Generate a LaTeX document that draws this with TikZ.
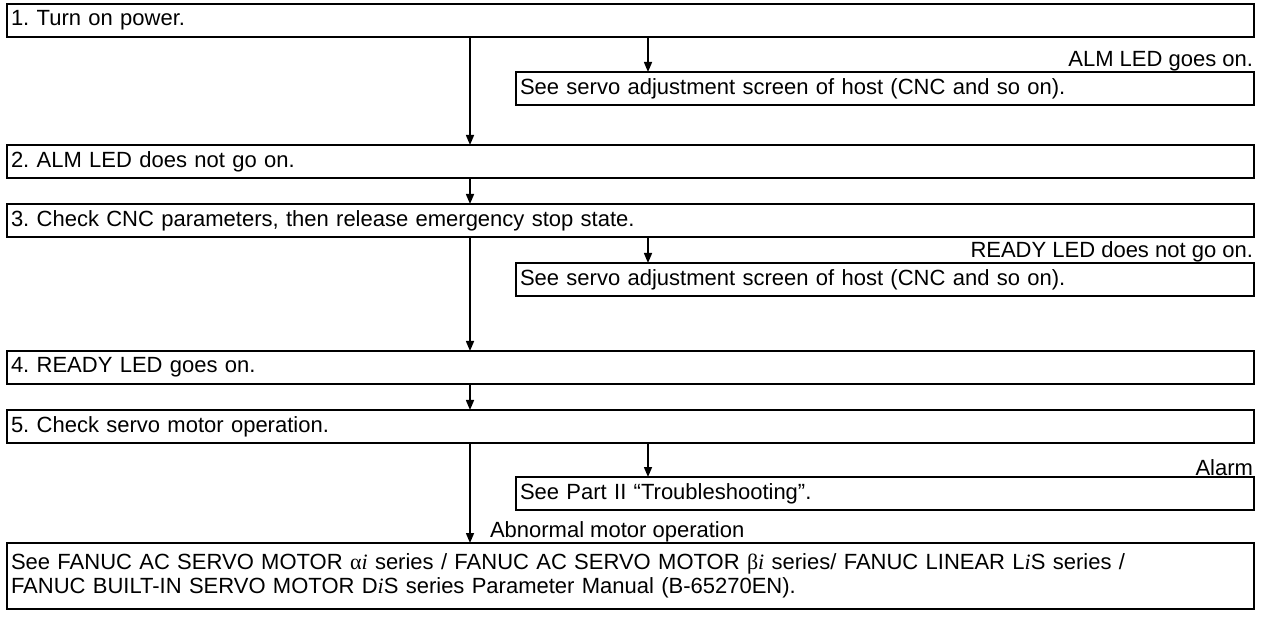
\documentclass[tikz,border=0pt]{standalone}
\usepackage{fontspec}
\setmainfont{Liberation Sans}
\newfontfamily\symfont{Liberation Serif}
\usetikzlibrary{arrows.meta, positioning}

\newcommand{\gk}[1]{{\symfont #1\textit{i}}}
\newcommand{\itali}{{\symfont\itshape i}}

\begin{document}
\frenchspacing
\begin{tikzpicture}[
    x=1pt, y=1pt,
    font=\fontsize{22}{24}\selectfont,
    stepbox/.style={rectangle, draw, line width=2pt, outer sep=0pt, text width=1239pt, inner xsep=4pt, inner ysep=2pt, minimum height=33pt, align=left},
    refbox/.style={rectangle, draw, line width=2pt, outer sep=0pt, text width=730pt, inner xsep=4pt, inner ysep=2pt, minimum height=33pt, align=left},
    result/.style={inner sep=1pt, outer sep=0pt},
    arrow/.style={-{Triangle[length=10pt, width=8pt]}, line width=1.5pt}
]
    \useasboundingbox (0,0) rectangle (1269,-617);

    % Main steps
    \node[stepbox, anchor=north west] (power) at (7,-4) {1. Turn on power.};
    \node[stepbox, below=108pt of power] (almoff) {2. ALM LED does not go on.};
    \node[stepbox, below=26pt of almoff] (release) {3. Check CNC parameters, then release emergency stop state.};
    \node[stepbox, below=114pt of release] (readyon) {4. READY LED goes on.};
    \node[stepbox, below=26pt of readyon] (motor) {5. Check servo motor operation.};
    \node[stepbox, below=100pt of motor, minimum height=66pt] (manual) {See FANUC AC SERVO MOTOR \gk{α} series / FANUC AC SERVO MOTOR \gk{β} series/ FANUC LINEAR L\itali S series /\\FANUC BUILT-IN SERVO MOTOR D\itali S series Parameter Manual (B-65270EN).};

    % Side branches
    \node[refbox, below left=35pt and 0pt of power.south east] (almref) {See servo adjustment screen of host (CNC and so on).};
    \node[result, above left=0pt and 0pt of almref.north east] (almtxt) {ALM LED goes on.};
    \node[refbox, below left=26pt and 0pt of release.south east] (readyref) {See servo adjustment screen of host (CNC and so on).};
    \node[result, above left=0pt and 0pt of readyref.north east] (readytxt) {READY LED does not go on.};
    \node[refbox, below left=34pt and 0pt of motor.south east] (alarmref) {See Part II “Troubleshooting”.};
    \node[result, above left=0pt and 0pt of alarmref.north east] (alarmtxt) {Alarm};
    \node[result, above right=0pt and 482pt of manual.north west] (abnormal) {Abnormal motor operation};

    % Arrows - main flow
    \draw[arrow] ([xshift=463pt]power.south west) -- ([xshift=463pt]almoff.north west);
    \draw[arrow] ([xshift=463pt]almoff.south west) -- ([xshift=463pt]release.north west);
    \draw[arrow] ([xshift=463pt]release.south west) -- ([xshift=463pt]readyon.north west);
    \draw[arrow] ([xshift=463pt]readyon.south west) -- ([xshift=463pt]motor.north west);
    \draw[arrow] ([xshift=463pt]motor.south west) -- ([xshift=463pt]manual.north west);

    % Arrows - branches
    \draw[arrow] ([xshift=641pt]power.south west) -- ([xshift=132pt]almref.north west);
    \draw[arrow] ([xshift=641pt]release.south west) -- ([xshift=132pt]readyref.north west);
    \draw[arrow] ([xshift=641pt]motor.south west) -- ([xshift=132pt]alarmref.north west);
\end{tikzpicture}
\end{document}
